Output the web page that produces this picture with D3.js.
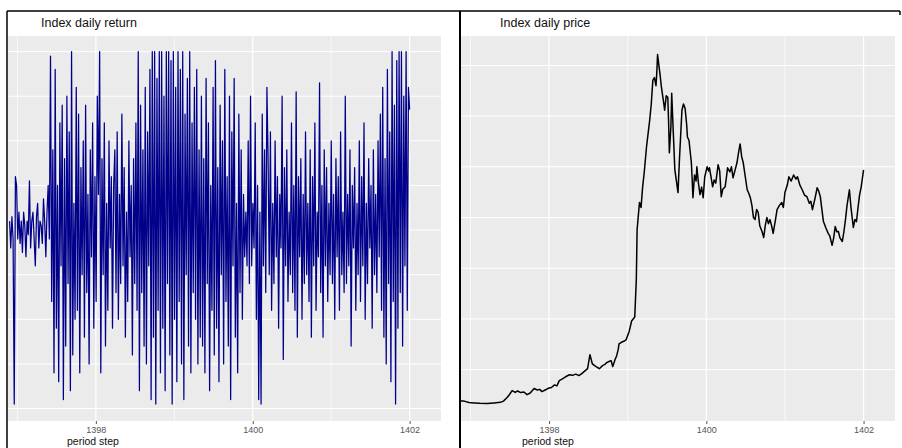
<!DOCTYPE html>
<html>
<head>
<meta charset="utf-8">
<script src="https://cdn.jsdelivr.net/npm/d3@7"></script>
<style>
  body { margin: 0; background: #fff; }
  text { font-family: "Liberation Sans", Arial, sans-serif; }
</style>
</head>
<body>
<script>
// Two ggplot-like panels: daily return of the index and daily price of the index.

// Daily returns (clipped), evenly spaced from returnStart to returnEnd.
var returnStart = 1396.9,
    returnEnd = 1402.0;
var returns = [
  0.1,-0.2,0.15,-0.1,-1.95,0.6,0.5,-0.1,0.2,-0.15,0.1,-0.25,0.2,0.05,-0.3,0.1,-0.05,0.55,-0.2,0.1,
  0.2,-0.1,-0.4,0.15,0.3,-0.2,0.1,0.05,-0.15,0.35,0.1,-0.3,0.2,0.5,-0.1,
  1.95,-0.8,0.9,-1.6,1.8,-1.1,0.5,-1.7,1.2,-0.4,1.4,-1.9,0.8,-1.3,1.5,-0.6,1.1,-1.8,2.0,-1.4,
  0.3,-1.0,1.6,-0.9,1.3,-1.6,0.7,-0.5,1.0,-1.2,1.4,-0.7,0.4,-1.5,0.9,-0.3,1.2,-1.1,0.6,-0.8,1.5,
  0.4,2.0,-1.6,0.8,-0.5,1.2,-1.3,0.3,-0.9,1.0,-0.2,0.6,-1.1,0.5,
  0.9,-0.7,1.1,-1.0,0.4,-0.6,1.3,-0.4,0.7,-1.2,0.2,-0.8,1.0,-0.3,0.5,-1.4,0.8,-0.6,1.2,-0.9,
  2.0,-1.8,1.4,-0.7,0.9,-1.3,1.6,-1.5,1.1,-0.4,1.8,-1.9,
  2.0,-1.2,2.0,-1.95,1.7,-0.9,2.0,-1.6,2.0,-1.1,1.5,-1.8,2.0,-0.6,2.0,-1.4,1.9,-1.95,2.0,-1.0,
  1.6,-1.7,2.0,-0.8,1.8,-1.5,2.0,-1.9,1.3,-0.5,1.7,-1.3,2.0,-1.6,1.2,-0.7,
  1.6,-1.0,1.8,-1.5,0.9,-1.2,
  1.5,-1.3,0.8,-1.6,1.7,-0.6,1.2,-1.8,0.5,-0.9,1.6,-1.4,1.9,-1.1,0.7,-1.7,1.4,-0.5,1.0,-1.5,
  1.8,-0.8,0.6,-1.3,1.5,-1.9,1.1,-0.4,1.7,-1.2,0.3,-1.6,1.3,-0.7,0.9,-1.0,
  0.4,-0.3,0.2,-0.4,1.0,-0.6,1.5,-0.4,0.3,-0.2,1.2,-1.0,0.5,-1.9,0.2,
  -1.95,1.3,-0.4,0.9,-0.7,1.6,
  0.8,-0.5,1.1,-0.9,0.3,-0.6,1.0,-0.3,0.6,-1.1,0.4,-0.2,1.5,-1.45,0.7,-0.4,0.9,-0.8,0.2,-0.5,
  1.2,-0.7,0.5,-0.9,1.55,-1.2,0.6,-0.3,0.8,-1.0,0.4,-0.6,1.1,-0.5,0.3,-0.8,0.9,-1.2,0.6,-0.4,
  1.2,-0.9,0.2,-0.3,1.65,-0.7,0.5,-1.2,0.9,-0.4,0.7,-0.8,0.3,-0.5,1.0,-0.6,0.4,-1.0,0.8,-0.3,
  0.6,-0.9,1.1,-0.5,0.2,-0.7,1.5,-0.6,0.4,-0.4,0.9,-1.3,0.5,-0.2,0.7,-0.9,0.3,-0.5,1.0,-0.8,
  0.6,-0.4,1.2,-1.0,0.3,-0.6,0.8,-0.2,0.5,-1.1,0.9,-0.5,0.4,-0.7,1.0,-0.3,
  1.3,-0.9,1.6,-1.2,0.8,-1.5,1.8,-0.6,1.1,-1.7,2.0,-0.8,1.4,-1.95,1.9,-1.1,2.0,-0.7,2.0,-1.3,
  1.5,-0.4,2.0,-0.9,1.6,1.35
];

// Daily price (thousands), read point by point.
var priceTimes = [
  1396.85,1396.92,1396.98,1397.05,1397.12,1397.21,1397.30,1397.38,1397.42,1397.46,
  1397.49,1397.53,1397.57,1397.60,1397.64,1397.68,1397.72,1397.76,1397.81,1397.85,
  1397.88,1397.91,1397.95,1397.99,1398.03,1398.07,1398.10,1398.13,1398.17,1398.21,
  1398.26,1398.30,1398.34,1398.38,1398.42,1398.46,1398.49,1398.52,1398.55,1398.58,
  1398.61,1398.64,1398.68,1398.71,1398.73,1398.76,1398.79,1398.81,1398.84,1398.86,
  1398.88,1398.89,1398.92,1398.95,1398.98,1399.02,1399.05,1399.09,1399.11,1399.12,
  1399.15,1399.17,1399.19,1399.21,1399.24,1399.28,1399.30,1399.32,1399.34,1399.36,
  1399.37,1399.38,1399.40,1399.41,1399.43,1399.44,1399.46,1399.47,1399.49,1399.51,
  1399.52,1399.53,1399.55,1399.56,1399.58,1399.60,1399.62,1399.64,1399.66,1399.69,
  1399.71,1399.73,1399.75,1399.76,1399.78,1399.81,1399.82,1399.83,1399.85,1399.87,
  1399.88,1399.90,1399.92,1399.94,1399.96,1399.98,1400.01,1400.03,1400.04,1400.06,
  1400.08,1400.10,1400.12,1400.15,1400.17,1400.19,1400.21,1400.24,1400.26,1400.27,
  1400.30,1400.32,1400.34,1400.37,1400.39,1400.41,1400.43,1400.45,1400.47,1400.50,
  1400.52,1400.54,1400.56,1400.58,1400.60,1400.62,1400.64,1400.66,1400.68,1400.71,
  1400.73,1400.75,1400.77,1400.79,1400.81,1400.83,1400.85,1400.88,1400.90,1400.93,
  1400.96,1400.98,1401.00,1401.03,1401.05,1401.08,1401.11,1401.14,1401.16,1401.19,
  1401.22,1401.25,1401.28,1401.31,1401.33,1401.35,1401.38,1401.41,1401.43,1401.45,
  1401.47,1401.49,1401.52,1401.55,1401.57,1401.60,1401.62,1401.64,1401.66,1401.68,
  1401.70,1401.73,1401.75,1401.77,1401.79,1401.82,1401.84,1401.87,1401.89,1401.91,
  1401.93,1401.95,1401.97,1402.00
];
var priceValues = [
  97,95,88,86,84,83,86,89,95,110,
  124,147,138,145,137,140,127,135,157,150,
  153,142,150,158,162,175,170,196,205,215,
  225,222,228,221,232,245,255,324,279,270,
  262,255,270,276,284,290,294,265,300,319,
  350,377,385,390,397,440,490,510,696,941,
  1074,1050,1150,1221,1350,1480,1560,1676,1690,1650,
  1711,1804,1740,1711,1640,1613,1560,1529,1600,1593,
  1480,1319,1450,1613,1420,1235,1180,1123,1300,1529,
  1560,1539,1460,1397,1380,1270,1190,1098,1210,1180,
  1250,1170,1113,1150,1098,1200,1250,1230,1245,1200,
  1152,1185,1170,1260,1230,1103,1140,1152,1210,1245,
  1225,1250,1196,1240,1270,1320,1363,1300,1270,1190,
  1137,1120,1098,1060,1000,990,1040,1025,960,930,
  902,960,1000,970,990,960,922,990,1039,1060,
  1074,1050,1123,1160,1201,1180,1210,1190,1201,1160,
  1137,1110,1103,1070,1080,1039,1090,1147,1130,1103,
  1040,980,950,922,910,863,900,956,930,931,
  900,882,930,990,1060,1137,1050,951,990,980,
  1050,1113,1150,1235
];

// Axis ticks and grid values.
var yearTicks = [1398, 1400, 1402],
    yearMinor = [1397, 1399, 1401],
    returnGrid = [-2, -1.5, -1, -0.5, 0, 0.5, 1, 1.5, 2],
    priceGrid = [250, 500, 750, 1000, 1250, 1500, 1750];

var width = 902, height = 448,
    plotTop = 36, plotBottom = 421;

var svg = d3.select('body').append('svg')
  .attr('width', width)
  .attr('height', height);

var returnPoints = returns.map(function (v, i) {
  return { t: returnStart + i * (returnEnd - returnStart) / (returns.length - 1), v: v };
});
var pricePoints = priceTimes.map(function (t, i) {
  return { t: t, v: priceValues[i] };
});

var panels = [
  {
    id: 'ret', left: 8, right: 441, titleX: 41, labelX: 67,
    title: 'Index daily return', color: '#00008b', width: 1.25,
    yDomain: [-2.14, 2.175], grid: returnGrid, points: returnPoints
  },
  {
    id: 'price', left: 461, right: 895, titleX: 500, labelX: 522,
    title: 'Index daily price', color: '#000', width: 1.5,
    yDomain: [-3, 1895], grid: priceGrid, points: pricePoints
  }
];

panels.forEach(function (p) {
  var x = d3.scaleLinear().domain([1396.88, 1402.4]).range([p.left, p.right]),
      y = d3.scaleLinear().domain(p.yDomain).range([plotBottom, plotTop]);

  var g = svg.append('g');

  g.append('rect')
    .attr('x', p.left).attr('y', plotTop)
    .attr('width', p.right - p.left).attr('height', plotBottom - plotTop)
    .attr('fill', '#ebebeb');

  g.append('clipPath').attr('id', 'clip-' + p.id)
    .append('rect')
    .attr('x', p.left).attr('y', plotTop)
    .attr('width', p.right - p.left).attr('height', plotBottom - plotTop);

  // Grid lines.
  g.selectAll('.hgrid').data(p.grid).enter().append('line')
    .attr('x1', p.left).attr('x2', p.right)
    .attr('y1', function (d) { return y(d); })
    .attr('y2', function (d) { return y(d); })
    .attr('stroke', '#fff').attr('stroke-width', 1);

  g.selectAll('.vminor').data(yearMinor).enter().append('line')
    .attr('x1', function (d) { return x(d); })
    .attr('x2', function (d) { return x(d); })
    .attr('y1', plotTop).attr('y2', plotBottom)
    .attr('stroke', '#fff').attr('stroke-width', 0.7);

  g.selectAll('.vmajor').data(yearTicks).enter().append('line')
    .attr('x1', function (d) { return x(d); })
    .attr('x2', function (d) { return x(d); })
    .attr('y1', plotTop).attr('y2', plotBottom)
    .attr('stroke', '#fff').attr('stroke-width', 1.2);

  // The series.
  var line = d3.line()
    .x(function (d) { return x(d.t); })
    .y(function (d) { return y(d.v); });

  g.append('path')
    .datum(p.points)
    .attr('clip-path', 'url(#clip-' + p.id + ')')
    .attr('d', line)
    .attr('fill', 'none')
    .attr('stroke', p.color)
    .attr('stroke-width', p.width)
    .attr('stroke-linejoin', 'round');

  // X axis.
  var axis = g.append('g')
    .attr('transform', 'translate(0,' + plotBottom + ')')
    .call(d3.axisBottom(x).tickValues(yearTicks).tickSize(3).tickPadding(3).tickFormat(d3.format('d')));
  axis.select('.domain').remove();
  axis.selectAll('line').attr('stroke', '#555');
  axis.selectAll('text')
    .attr('fill', '#555')
    .style('font-size', '9px')
    .style('font-family', '"Liberation Sans", Arial, sans-serif');

  g.append('text')
    .attr('x', p.labelX).attr('y', 445)
    .attr('fill', '#111')
    .style('font-size', '10.5px')
    .text('period step');

  g.append('text')
    .attr('x', p.titleX).attr('y', 27)
    .attr('fill', '#111')
    .style('font-size', '12.5px')
    .text(p.title);
});

// Frame lines around the two panels.
var frame = svg.append('g').attr('stroke', '#000').attr('fill', 'none');
frame.append('line').attr('x1', 7).attr('x2', 900).attr('y1', 11).attr('y2', 11).attr('stroke-width', 1.5);
frame.append('line').attr('x1', 7).attr('x2', 7).attr('y1', 11).attr('y2', height).attr('stroke-width', 1.5);
frame.append('line').attr('x1', 460).attr('x2', 460).attr('y1', 11).attr('y2', height).attr('stroke-width', 2);
frame.append('line').attr('x1', 900).attr('x2', 900).attr('y1', 11).attr('y2', 15).attr('stroke-width', 1.5);
</script>
</body>
</html>
